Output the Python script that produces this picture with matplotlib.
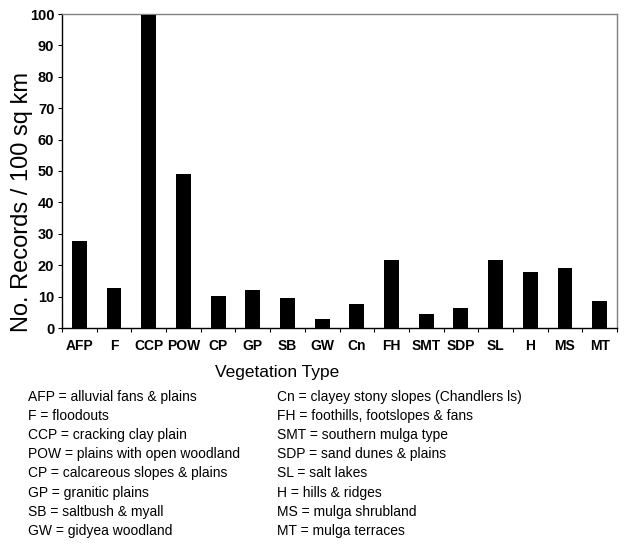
import matplotlib
matplotlib.use("Agg")
import matplotlib.pyplot as plt
import numpy as np

categories = ["AFP", "F", "CCP", "POW", "CP", "GP", "SB", "GW", "Cn", "FH",
              "SMT", "SDP", "SL", "H", "MS", "MT"]
values = [27.8, 12.8, 99.8, 49.2, 10.2, 12.2, 9.6, 3.0, 7.6, 21.8,
          4.4, 6.4, 21.8, 17.8, 19.1, 8.6]
yticks = [0, 10, 20, 30, 40, 50, 60, 70, 80, 90, 100]

legend_left = ["AFP = alluvial fans & plains", "F = floodouts",
               "CCP = cracking clay plain", "POW = plains with open woodland",
               "CP = calcareous slopes & plains", "GP = granitic plains",
               "SB = saltbush & myall", "GW = gidyea woodland"]
legend_right = ["Cn = clayey stony slopes (Chandlers ls)",
                "FH = foothills, footslopes & fans",
                "SMT = southern mulga type", "SDP = sand dunes & plains",
                "SL = salt lakes", "H = hills & ridges",
                "MS = mulga shrubland", "MT = mulga terraces"]

plt.rcParams['font.family'] = ['Liberation Sans', 'DejaVu Sans']

W, H = 627, 552
fig = plt.figure(figsize=(W / 100, H / 100), dpi=100)
ax = fig.add_axes([62 / W, 1 - 328 / H, (617 - 62) / W, (328 - 14) / H])

x = np.arange(len(categories))
ax.bar(x, values, width=0.43, color="black", zorder=3)
ax.set_xlim(-0.5, len(categories) - 0.5)
ax.set_ylim(0, 100)

ax.set_yticks(yticks)
ax.set_yticklabels([str(t) for t in yticks], fontsize=10.5, fontweight="bold")
ax.tick_params(axis="y", direction="out", length=3, width=0.8, pad=2.5)

ax.set_xticks(x)
ax.set_xticklabels(categories, fontsize=10, fontweight="bold")
ax.set_xticks(np.arange(-0.5, len(categories), 1.0), minor=True)
ax.tick_params(axis="x", which="major", length=0, pad=8)
ax.tick_params(axis="x", which="minor", direction="out", length=3, width=0.8)

for s in ["top", "right"]:
    ax.spines[s].set_color("#808080")
    ax.spines[s].set_linewidth(1.0)
for s in ["left", "bottom"]:
    ax.spines[s].set_color("black")
    ax.spines[s].set_linewidth(1.0)

fig.text(22 / W, 1 - 202 / H, "No. Records / 100 sq km", fontsize=17,
         rotation=90, ha="center", va="center")

fig.text(277 / W, 1 - 372 / H, "Vegetation Type", fontsize=12.5,
         ha="center", va="center")

y0, dy = 397, 19.1
for i, t in enumerate(legend_left):
    fig.text(28 / W, 1 - (y0 + i * dy) / H, t, fontsize=10, ha="left", va="center")
for i, t in enumerate(legend_right):
    fig.text(277 / W, 1 - (y0 + i * dy) / H, t, fontsize=10, ha="left", va="center")

fig.savefig("out.png", dpi=100)
